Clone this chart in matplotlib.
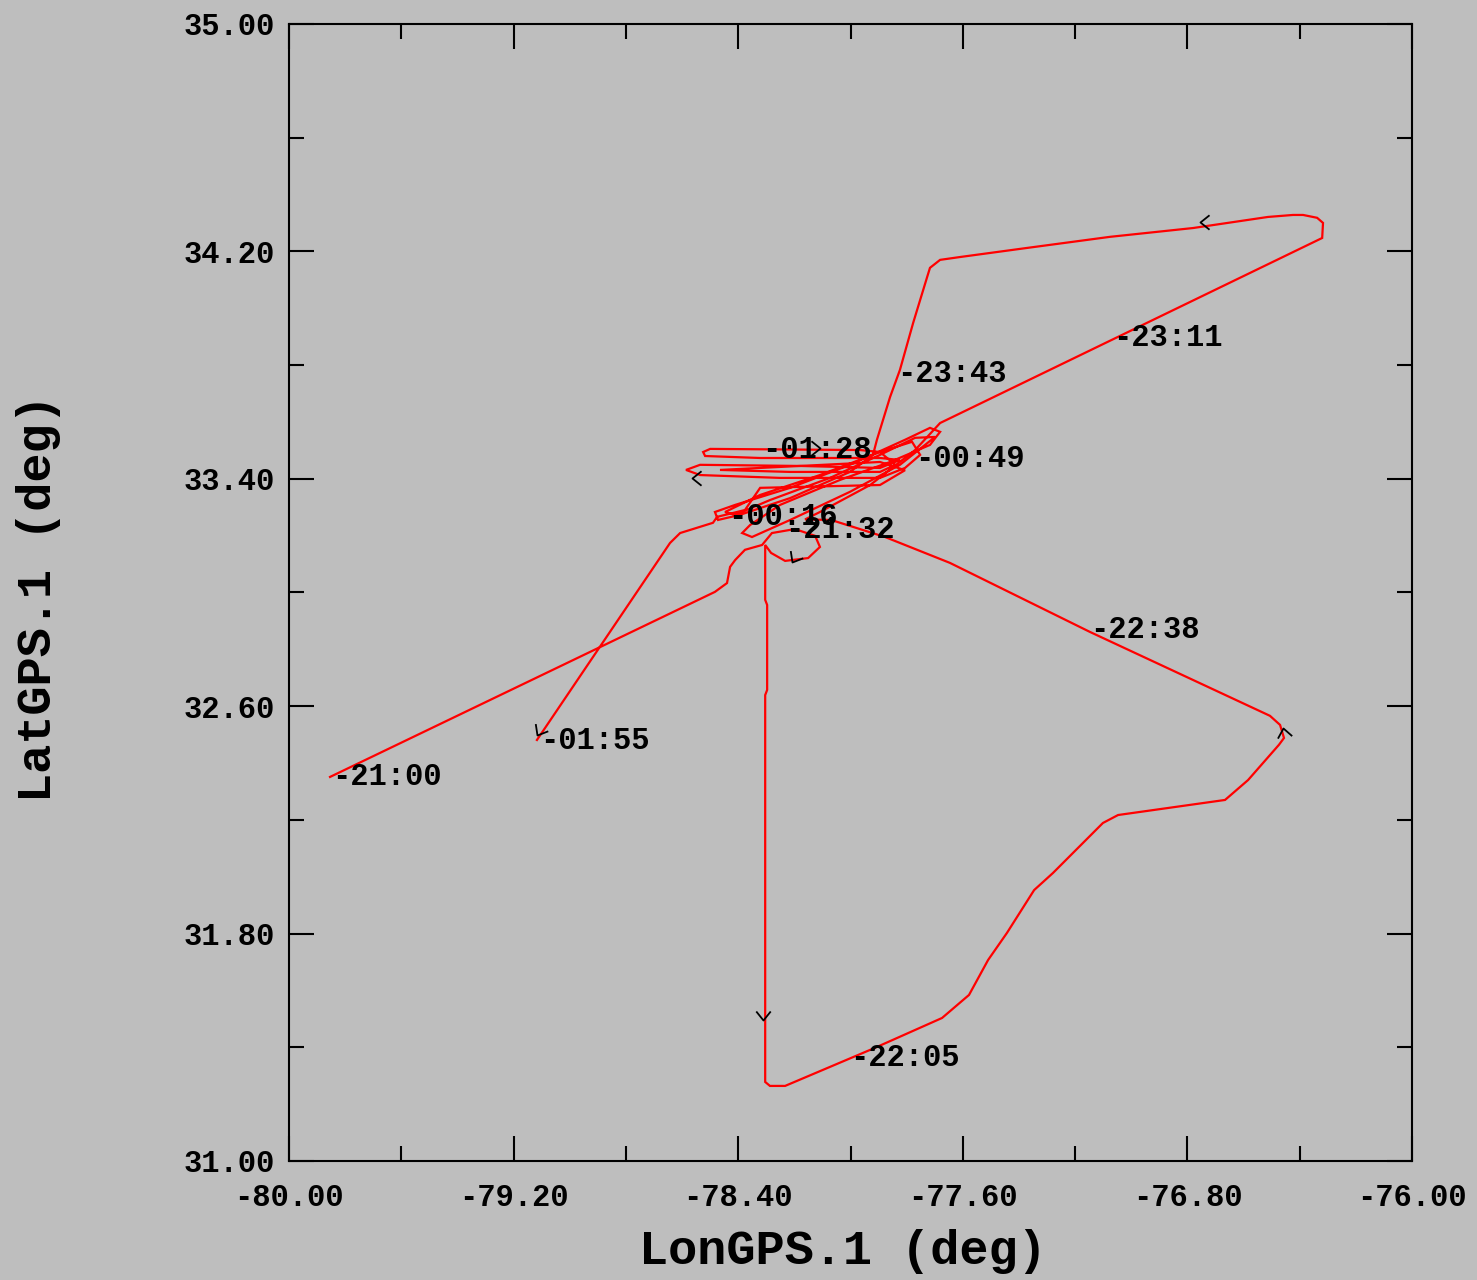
import numpy as np
import matplotlib
matplotlib.use("Agg")
import matplotlib.pyplot as plt
from matplotlib.markers import MarkerStyle
from matplotlib.path import Path
from matplotlib.transforms import Affine2D
from matplotlib.ticker import FixedLocator, FormatStrFormatter

# flight track (deg)
lon = [-79.854, -78.483, -78.440, -78.429, -78.411, -78.376, -78.315,
       # loop near 21:32
       -78.280, -78.198, -78.126, -78.109, -78.151, -78.233, -78.283, -78.304,
       # south leg
       -78.304, -78.297, -78.297, -78.304, -78.304, -78.287, -78.233,
       -77.913, -77.674, -77.578, -77.510, -77.443, -77.346, -77.279,
       -77.101, -77.047, -76.666, -76.584, -76.474, -76.456, -76.470, -76.506,
       # back north-west
       -77.147, -77.646, -77.877, -78.069, -78.162, -78.109, -77.930, -77.770,
       -77.681,
       # north-east box
       -76.320, -76.317, -76.338, -76.388, -76.424, -76.513, -76.780, -77.076,
       -77.371, -77.610, -77.681, -77.717, -77.727, -77.777, -77.824, -77.859,
       -77.906, -77.920,
       # racetracks
       -78.002, -78.215, -78.394, -78.472, -78.483, -78.411, -78.215, -78.002,
       -77.806, -77.717, -77.681, -77.717, -77.859, -78.037, -78.251, -78.358,
       -78.386, -78.351, -78.215, -78.002, -77.824, -77.735, -77.699, -77.770,
       -77.895, -78.073, -78.287, -78.411, -78.447, -78.322, -78.109, -77.895,
       -77.781, -77.752, -77.806,
       -77.895, -78.251, -78.536, -78.586, -78.536, -78.180, -77.895, -77.824,
       -77.895, -78.322, -78.518, -78.525, -78.500, -77.966, -77.895, -77.841,
       -77.895, -78.215, -78.465, -77.895, -77.806, -77.895, -78.322,
       # exit to the end point
       -78.376, -78.475, -78.490, -78.607, -78.643, -79.117]
lat = [32.351, 33.002, 33.033, 33.090, 33.114, 33.150, 33.167,
       33.209, 33.223, 33.199, 33.160, 33.121, 33.111, 33.139, 33.167,
       32.974, 32.956, 32.657, 32.639, 31.278, 31.264, 31.264,
       31.398, 31.503, 31.584, 31.707, 31.802, 31.953, 32.013,
       32.189, 32.217, 32.270, 32.340, 32.464, 32.488, 32.534, 32.566,
       32.861, 33.104, 33.195, 33.255, 33.257, 33.283, 33.378, 33.501,
       33.596,
       34.247, 34.300, 34.318, 34.328, 34.328, 34.321, 34.282, 34.251,
       34.212, 34.180, 34.170, 34.142, 34.110, 33.948, 33.783, 33.688,
       33.537, 33.484,
       33.424, 33.332, 33.273, 33.255, 33.283, 33.308, 33.368, 33.449,
       33.537, 33.579, 33.565, 33.519, 33.459, 33.396, 33.308, 33.237,
       33.209, 33.195, 33.255, 33.354, 33.449, 33.519, 33.547, 33.544,
       33.484, 33.403, 33.325, 33.273, 33.283, 33.343, 33.413, 33.494,
       33.530, 33.484, 33.438,
       33.403, 33.403, 33.413, 33.431, 33.449, 33.445, 33.438, 33.466,
       33.473, 33.473, 33.480, 33.494, 33.505, 33.501, 33.494, 33.449,
       33.424, 33.424, 33.431, 33.459, 33.430, 33.378, 33.368,
       33.290, 33.266, 33.245, 33.209, 33.174, 32.481]

# time stamps along the track
label_text = ["21:00", "21:32", "22:05", "22:38", "23:11", "23:43",
              "00:16", "00:49", "01:28", "01:55"]
label_lon = [-79.847, -78.233, -78.002, -77.147, -77.065, -77.834,
             -78.436, -77.770, -78.315, -79.106]
label_lat = [32.351, 33.220, 31.362, 32.868, 33.895, 33.769,
             33.266, 33.470, 33.501, 32.478]

# direction markers (heading in degrees, 0 = east)
mark_lon = [-78.312, -76.459, -76.755, -78.565, -78.109, -78.208, -79.117]
mark_lat = [31.496, 32.523, 34.303, 33.403, 33.508, 33.107, 32.499]
mark_dir = [-90, 100, 180, 180, 0, -120, -120]

x_major = np.arange(-80, -75.99, 0.8)
x_minor = np.arange(-80, -75.99, 0.4)
y_major = np.arange(31, 35.01, 0.8)
y_minor = np.arange(31, 35.01, 0.4)

bg = "#bebebe"
font = "Liberation Mono"
plt.rcParams["axes.unicode_minus"] = False

fig = plt.figure(figsize=(14.77, 12.80), dpi=100, facecolor=bg)
ax = fig.add_axes([0.1957, 0.093, 0.7603, 0.8883])
ax.set_facecolor(bg)

ax.plot(lon, lat, color="red", lw=1.6, solid_joinstyle="miter")

chev = Path([(-0.8, 1.0), (0, 0), (0.8, 1.0)],
            [Path.MOVETO, Path.LINETO, Path.LINETO])
for x, y, d in zip(mark_lon, mark_lat, mark_dir):
    m = MarkerStyle(chev, transform=Affine2D().rotate_deg(d + 90))
    ax.plot(x, y, marker=m, ms=13, mfc="none", mec="black", mew=1.3, ls="none")

for t, x, y in zip(label_text, label_lon, label_lat):
    ax.text(x, y, "-" + t, ha="left", va="center", fontsize=22,
            fontweight="bold", family=font, color="black")

ax.set_xlim(-80, -76)
ax.set_ylim(31, 35)
ax.xaxis.set_major_locator(FixedLocator(x_major))
ax.xaxis.set_minor_locator(FixedLocator(x_minor))
ax.yaxis.set_major_locator(FixedLocator(y_major))
ax.yaxis.set_minor_locator(FixedLocator(y_minor))
ax.xaxis.set_major_formatter(FormatStrFormatter("%.2f"))
ax.yaxis.set_major_formatter(FormatStrFormatter("%.2f"))

ax.tick_params(which="both", direction="in", top=True, right=True,
               width=1.5, color="black")
ax.tick_params(which="major", length=18)
ax.tick_params(which="minor", length=11)
ax.tick_params(axis="x", pad=16)
ax.tick_params(axis="y", pad=10)
for lab in ax.get_xticklabels() + ax.get_yticklabels():
    lab.set_family(font)
    lab.set_fontweight("bold")
    lab.set_fontsize(22)
for s in ax.spines.values():
    s.set_linewidth(1.5)

ax.set_xlabel("LonGPS.1 (deg)", family=font, fontweight="bold", fontsize=35)
ax.set_ylabel("LatGPS.1 (deg)", family=font, fontweight="bold", fontsize=35)
ax.xaxis.set_label_coords(0.493, -0.080)
ax.yaxis.set_label_coords(-0.2235, 0.495)
ax.xaxis.label.set_va("center")
ax.yaxis.label.set_va("center")

fig.savefig("out.png", dpi=100, facecolor=bg)
